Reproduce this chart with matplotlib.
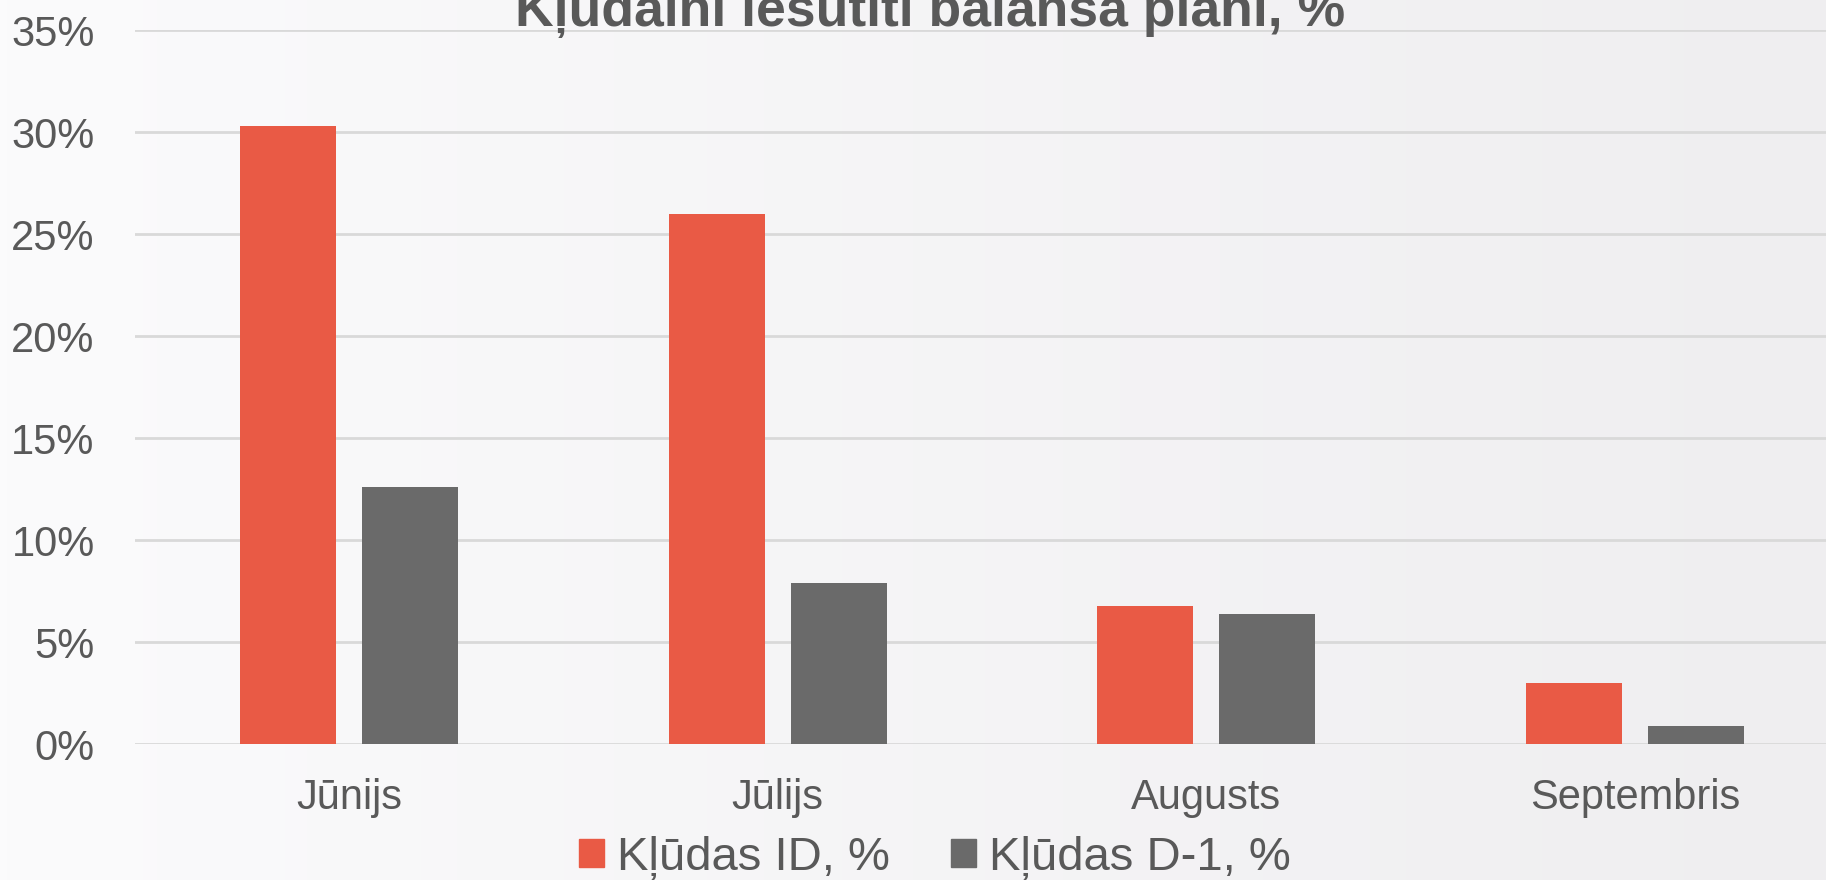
import numpy as np
import matplotlib.pyplot as plt
from matplotlib.patches import Patch
from matplotlib.colors import LinearSegmentedColormap

# Данные графика
months = ["Jūnijs", "Jūlijs", "Augusts", "Septembris"]
errors_id = [0.303, 0.260, 0.068, 0.030]
errors_d1 = [0.126, 0.079, 0.064, 0.009]
series_names = ["Kļūdas ID, %", "Kļūdas D-1, %"]
title = "Kļūdaini iesūtīti balansa plāni, %"

red = "#E95A45"
grey = "#6A6A6A"
text_color = "#595959"

plt.rcParams['font.family'] = ['Liberation Sans', 'DejaVu Sans']

fig = plt.figure(figsize=(18.26, 8.80), dpi=100)

# Фон - светлый градиент
bg = fig.add_axes([0, 0, 1, 1], zorder=-10)
grad = np.linspace(0, 1, 256).reshape(1, -1)
bg.imshow(grad, aspect='auto', cmap=LinearSegmentedColormap.from_list("bg", ["#fbfbfc", "#efeef0"]),
          extent=[0, 1, 0, 1])
bg.axis('off')

ax = fig.add_axes([0.0739, 0.1542, 0.9387, 0.8114])
ax.patch.set_alpha(0)

x = np.arange(len(months))
w = 0.224
ax.bar(x - 0.142, errors_id, w, color=red, zorder=3)
ax.bar(x + 0.142, errors_d1, w, color=grey, zorder=3)

ax.set_xlim(-0.5, 3.5)
ax.set_ylim(0, 0.35)
yt = np.arange(0, 0.351, 0.05)
ax.set_yticks(yt)
ax.set_yticklabels([f"{int(round(v * 100))}%" for v in yt])
ax.set_xticks(x)
ax.set_xticklabels(months)
ax.tick_params(axis='both', length=0, labelsize=30, colors=text_color)
ax.tick_params(axis='y', pad=29)
ax.tick_params(axis='x', pad=24)
ax.yaxis.grid(True, color="#d9d9d9", linewidth=2, zorder=0)
for s in ax.spines.values():
    s.set_visible(False)

fig.text(930 / 1826, 1 - 26 / 880, title, ha='center', va='baseline',
         fontsize=38.5, fontweight='bold', color=text_color)

handles = [Patch(color=red), Patch(color=grey)]
fig.legend(handles, series_names, loc='center', bbox_to_anchor=(935 / 1826, 1 - 858 / 880),
           ncol=2, frameon=False, fontsize=34, labelcolor=text_color,
           handlelength=0.52, handleheight=0.52, handletextpad=0.28,
           columnspacing=1.3, borderpad=0, borderaxespad=0)

fig.savefig("out.png", dpi=100)
